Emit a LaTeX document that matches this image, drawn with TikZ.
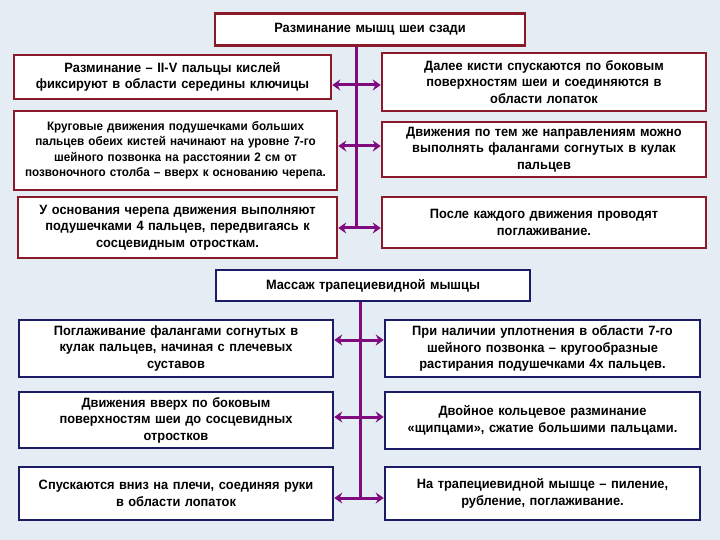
\documentclass[tikz,border=0pt]{standalone}
\usepackage{fontspec}
\setmainfont{Liberation Sans}[FakeStretch=0.95]
\usetikzlibrary{arrows.meta}
\definecolor{bg}{HTML}{E4ECF4}
\definecolor{redb}{HTML}{8A1A2A}
\definecolor{blueb}{HTML}{1C1C66}
\definecolor{conn}{HTML}{800A80}
\begin{document}
\begin{tikzpicture}[x=1pt,y=-1pt,
  rbox/.style={draw=redb,line width=2.5pt,fill=white,inner sep=1pt,align=center,font=\bfseries\fontsize{13.5}{16.5}\selectfont},
  bbox/.style={draw=blueb,line width=2.5pt,fill=white,inner sep=1pt,align=center,font=\bfseries\fontsize{13.5}{16.5}\selectfont},
  cline/.style={draw=conn,line width=3pt},
  carrow/.style={draw=conn,line width=3pt,{Stealth[length=8pt,width=11pt]}-{Stealth[length=8pt,width=11pt]}}]
\fill[bg] (0,0) rectangle (720,540);
\useasboundingbox (0,0) rectangle (720,540);
% top section
\node[rbox,minimum width=310,minimum height=32,text width=306] (t1) at (370,29.5) {Разминание мышц шеи сзади};
\node[rbox,minimum width=317,minimum height=44,text width=313] (l1) at (172.5,77) {Разминание – II-V пальцы кислей\\фиксируют в области середины ключицы};
\node[rbox,minimum width=324,minimum height=58,text width=320] (r1) at (544,82) {Далее кисти спускаются по боковым\\поверхностям шеи и соединяются в\\области лопаток};
\node[rbox,minimum width=323,minimum height=79,text width=321,font=\bfseries\fontsize{12.3}{15.5}\selectfont] (l2) at (175.5,150.5) {Круговые движения подушечками больших\\пальцев обеих кистей начинают на уровне 7-го\\шейного позвонка на расстоянии 2 см от\\позвоночного столба – вверх к основанию черепа.};
\node[rbox,minimum width=324,minimum height=55,text width=320] (r2) at (544,149.5) {Движения по тем же направлениям можно\\выполнять фалангами согнутых в кулак\\пальцев};
\node[rbox,minimum width=319,minimum height=61,text width=315] (l3) at (177.5,227.5) {У основания черепа движения выполняют\\подушечками 4 пальцев, передвигаясь к\\сосцевидным отросткам.};
\node[rbox,minimum width=324,minimum height=51,text width=320] (r3) at (544,222.5) {После каждого движения проводят\\поглаживание.};
\coordinate (a1) at (356,85);
\coordinate (a2) at (356,146);
\coordinate (a3) at (356,228);
\draw[cline] (t1.south -| a1) -- (a3);
\draw[carrow] (a1 -| l1.east) -- (a1 -| r1.west);
\draw[carrow] (a2 -| l2.east) -- (a2 -| r2.west);
\draw[carrow] (a3 -| l3.east) -- (a3 -| r3.west);
% bottom section
\node[bbox,minimum width=314,minimum height=31,text width=310] (t2) at (373,285.5) {Массаж трапециевидной мышцы};
\node[bbox,minimum width=314,minimum height=57,text width=310] (bl1) at (176,348.5) {Поглаживание фалангами согнутых в\\кулак пальцев, начиная с плечевых\\суставов};
\node[bbox,minimum width=315,minimum height=57,text width=311] (br1) at (542.5,348.5) {При наличии уплотнения в области 7-го\\шейного позвонка – кругообразные\\растирания подушечками 4х пальцев.};
\node[bbox,minimum width=314,minimum height=56,text width=310] (bl2) at (176,420) {Движения вверх по боковым\\поверхностям шеи до сосцевидных\\отростков};
\node[bbox,minimum width=315,minimum height=57,text width=311] (br2) at (542.5,420.5) {Двойное кольцевое разминание\\«щипцами», сжатие большими пальцами.};
\node[bbox,minimum width=314,minimum height=53,text width=310] (bl3) at (176,493.5) {Спускаются вниз на плечи, соединяя руки\\в области лопаток};
\node[bbox,minimum width=315,minimum height=53,text width=311] (br3) at (542.5,493.5) {На трапециевидной мышце – пиление,\\рубление, поглаживание.};
\coordinate (b1) at (360,340);
\coordinate (b2) at (360,417);
\coordinate (b3) at (360,498);
\draw[cline] (t2.south -| b1) -- (b3);
\draw[carrow] (b1 -| bl1.east) -- (b1 -| br1.west);
\draw[carrow] (b2 -| bl2.east) -- (b2 -| br2.west);
\draw[carrow] (b3 -| bl3.east) -- (b3 -| br3.west);
\end{tikzpicture}
\end{document}
